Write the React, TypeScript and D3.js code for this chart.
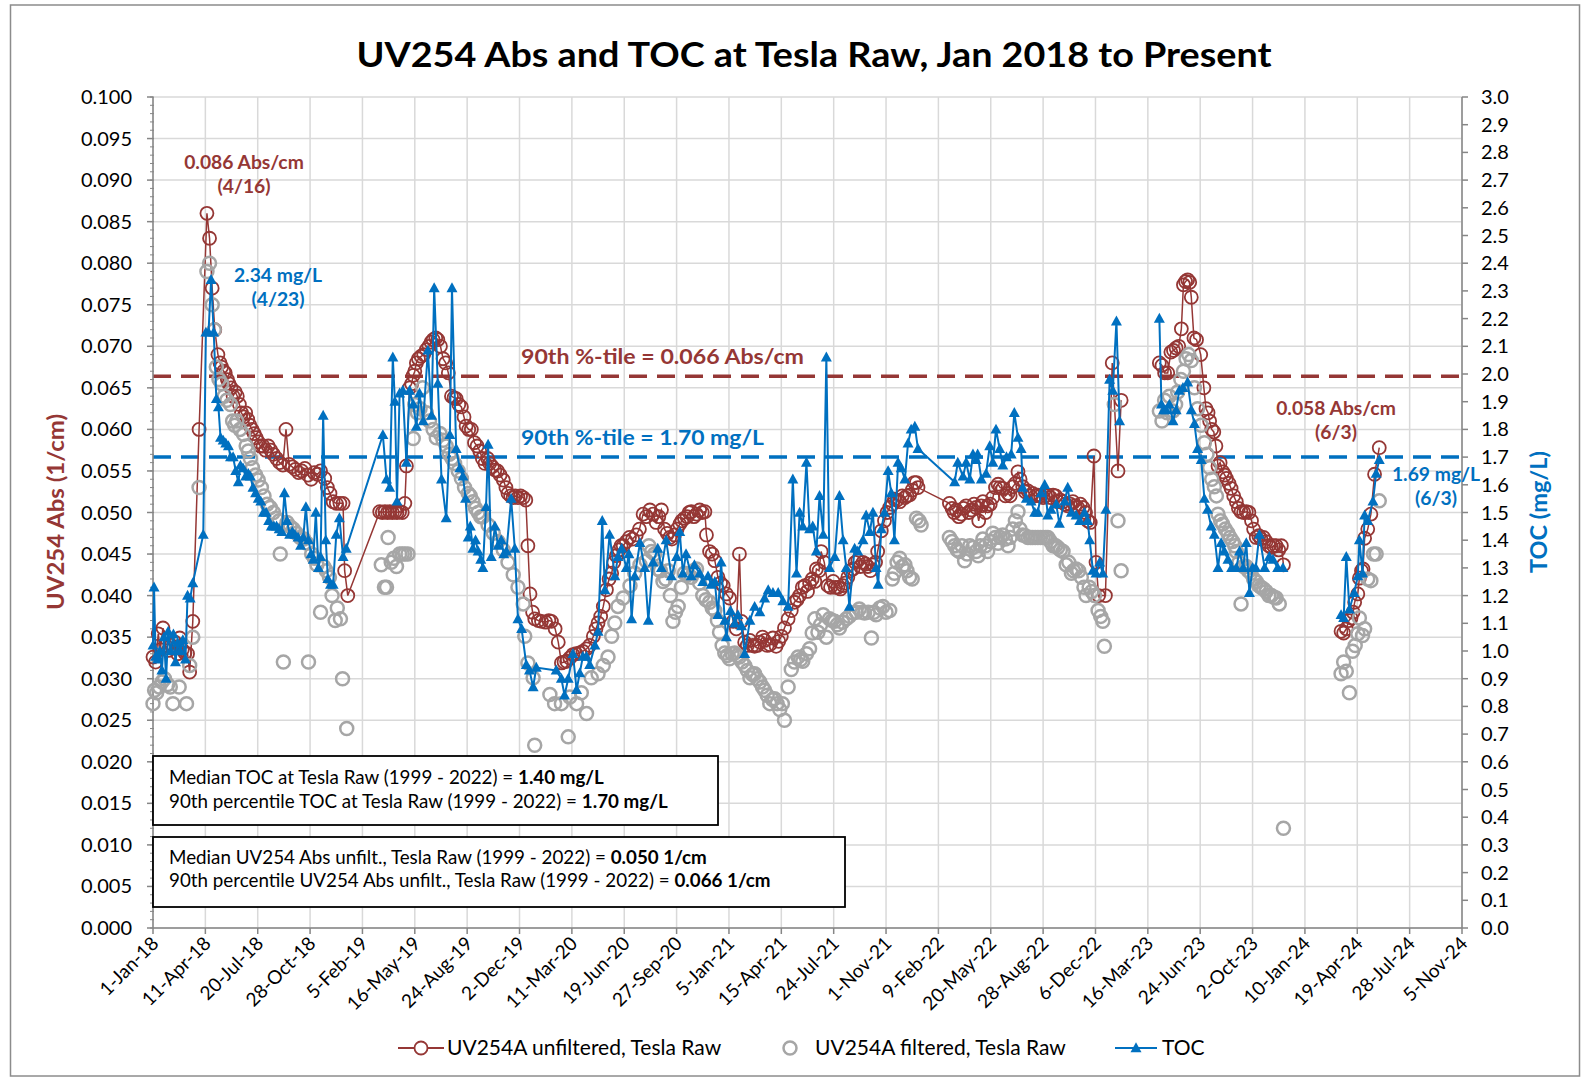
import React from "react";
import * as d3 from "d3";

const START = new Date(Date.UTC(2018, 0, 1));
const END = new Date(Date.UTC(2024, 10, 5));
const TICK_STEP_DAYS = 100;

// ---- UV254A unfiltered (day offset from 1-Jan-18, Abs/cm)
const unfilteredDay = [0,5,10,14,19,24,29,35,42,47,51,56,61,66,70,76,88,103,108,113,118,124,128,131,135,138,142,145,149,153,157,161,165,169,173,177,181,185,189,193,197,201,205,210,215,220,225,230,236,242,248,254,260,266,272,278,284,290,296,302,308,314,320,328,333,338,344,350,357,363,366,372,
433,438,443,448,452,457,462,466,471,476,481,484,490,494,497,500,503,507,512,517,522,527,531,535,540,544,549,554,559,564,570,575,579,584,589,594,598,603,608,614,619,624,629,634,639,643,648,653,658,663,669,674,678,683,688,692,697,702,707,712,716,720,725,729,736,742,750,756,761,768,774,780,785,790,796,802,808,815,821,828,834,841,846,850,855,860,866,871,876,880,885,890,894,898,904,910,916,923,929,936,942,949,955,961,966,971,977,982,987,991,996,1001,1006,1010,1015,1020,1024,1028,1033,1038,1044,1049,1054,1057,1063,1068,1073,1079,1084,1089,1095,1101,1108,1114,1120,1124,1130,1135,1140,1145,1149,1154,1159,1164,1168,1173,1178,1184,1190,1195,1200,1206,1213,1219,1225,1230,1235,1240,1245,1250,1254,1259,1264,1267,1272,1276,1282,1289,1294,1299,1303,1308,1313,1318,1322,1327,1332,1337,1341,1346,1351,1356,1361,1365,1370,1375,1380,1384,1391,1397,1402,1407,1412,1416,1421,1426,1431,1436,1440,1445,1450,1454,1458,1461,
1521,1526,1530,1534,1539,1544,1548,1553,1558,1563,1568,1572,1577,1582,1585,1590,1594,1599,1604,1609,1614,1618,1623,1628,1633,1637,1642,1647,1652,1656,1661,1666,1671,1676,1680,1685,1690,1695,1700,1705,1709,1714,1719,1724,1728,1733,1738,1742,1747,1752,1757,1761,1766,1771,1776,1781,1785,1790,1797,1801,1806,1819,1832,1843,1849,
1922,1927,1932,1938,1944,1949,1954,1959,1964,1968,1972,1976,1980,1983,1988,1993,2001,2007,2011,2015,2018,2022,2026,2030,2034,2038,2043,2047,2050,2055,2059,2064,2069,2073,2078,2083,2088,2093,2098,2102,2107,2112,2116,2121,2126,2131,2136,2140,2145,2150,2155,2159,
2269,2274,2279,2284,2288,2292,2295,2301,2304,2308,2311,2314,2320,2326,2333,2342];
const unfilteredUV = [0.0326,0.032,0.0354,0.0335,0.0361,0.034,0.0334,0.034,0.0344,0.033,0.0349,0.0335,0.0331,0.033,0.0308,0.0369,0.06,0.086,0.083,0.077,0.072,0.069,0.068,0.0675,0.067,0.0668,0.066,0.0655,0.065,0.064,0.0645,0.064,0.063,0.062,0.0615,0.062,0.0612,0.0605,0.06,0.0595,0.059,0.0585,0.058,0.058,0.0575,0.058,0.0575,0.057,0.0565,0.056,0.0557,0.06,0.0558,0.0555,0.0552,0.0548,0.055,0.0553,0.0545,0.054,0.0548,0.0546,0.055,0.0541,0.053,0.0523,0.0513,0.0511,0.0511,0.0511,0.043,0.04,
0.0501,0.05,0.0501,0.05,0.0501,0.05,0.0501,0.05,0.0501,0.05,0.0511,0.0556,0.065,0.0655,0.0665,0.067,0.068,0.0685,0.0688,0.069,0.0696,0.07,0.0705,0.0708,0.071,0.0708,0.07,0.0685,0.068,0.0668,0.064,0.0638,0.0637,0.063,0.0627,0.0615,0.0604,0.06,0.06,0.0584,0.058,0.0574,0.0565,0.0559,0.0565,0.0559,0.0555,0.0551,0.055,0.0545,0.0539,0.053,0.0523,0.052,0.0518,0.052,0.0518,0.052,0.0518,0.0515,0.046,0.0402,0.038,0.0372,0.037,0.0369,0.0368,0.037,0.0369,0.036,0.0344,0.0319,0.032,0.0321,0.0325,0.0329,0.033,0.0331,0.0333,0.0336,0.034,0.0351,0.036,0.0367,0.0375,0.0387,0.0407,0.042,0.0427,0.044,0.0448,0.0455,0.046,0.046,0.0465,0.047,0.0468,0.0473,0.048,0.0498,0.0495,0.0503,0.0498,0.0488,0.0495,0.0503,0.048,0.0475,0.047,0.0468,0.0473,0.048,0.0486,0.049,0.0493,0.0495,0.05,0.0501,0.0495,0.0498,0.0503,0.05,0.0501,0.0473,0.0453,0.045,0.0442,0.0422,0.0415,0.0412,0.0402,0.0397,0.0369,0.036,0.045,0.0369,0.0344,0.034,0.0346,0.034,0.0339,0.034,0.0344,0.035,0.0346,0.034,0.0341,0.0349,0.0339,0.0345,0.0351,0.0361,0.0372,0.0382,0.0392,0.0395,0.04,0.041,0.0412,0.0405,0.0415,0.042,0.0417,0.0432,0.043,0.0453,0.044,0.0412,0.041,0.0417,0.041,0.041,0.0408,0.0412,0.0415,0.0422,0.043,0.0432,0.044,0.0442,0.0435,0.044,0.0438,0.0435,0.043,0.0437,0.044,0.0453,0.0478,0.049,0.05,0.0506,0.051,0.0516,0.0515,0.0513,0.052,0.0518,0.052,0.0521,0.0527,0.0536,0.0536,0.053,
0.0511,0.0505,0.05,0.0503,0.0495,0.0498,0.0505,0.0508,0.05,0.0503,0.051,0.0506,0.049,0.0508,0.0513,0.05,0.0508,0.051,0.0518,0.053,0.0534,0.053,0.0529,0.052,0.0523,0.052,0.0531,0.0535,0.0549,0.054,0.0531,0.0525,0.0526,0.052,0.0523,0.052,0.0521,0.052,0.0518,0.052,0.0521,0.0518,0.0521,0.052,0.0513,0.0515,0.0513,0.051,0.0508,0.051,0.0513,0.0508,0.0506,0.051,0.0506,0.05,0.049,0.0488,0.0568,0.044,0.04,0.04,0.068,0.055,0.0635,
0.068,0.0677,0.0668,0.0668,0.0693,0.0695,0.0698,0.07,0.0721,0.0774,0.0778,0.078,0.0777,0.0759,0.071,0.0708,0.069,0.065,0.0625,0.062,0.061,0.06,0.0597,0.058,0.0556,0.056,0.0549,0.0545,0.0541,0.0535,0.0529,0.052,0.0513,0.0505,0.0501,0.05,0.0501,0.05,0.049,0.048,0.047,0.0472,0.0468,0.047,0.0465,0.046,0.0458,0.046,0.046,0.0455,0.046,0.0437,
0.0357,0.0355,0.036,0.037,0.0373,0.038,0.0392,0.0402,0.0421,0.043,0.0432,0.0469,0.048,0.0498,0.0546,0.0578];

// ---- UV254A filtered (markers only)
const filteredDay = [0,3,7,12,17,22,28,33,38,50,64,70,76,88,103,108,113,117,121,126,131,136,141,148,152,156,160,166,173,178,182,186,190,196,201,207,212,218,224,230,235,241,243,249,256,262,268,274,281,288,294,297,303,308,313,320,326,331,337,342,348,352,358,362,370,
436,442,446,449,455,460,465,471,476,481,487,497,500,505,510,515,522,528,535,541,548,554,560,566,571,576,583,589,595,602,606,611,616,621,626,630,640,650,659,669,678,688,697,707,710,716,726,729,758,767,780,793,796,809,818,828,837,850,860,869,876,882,888,898,911,920,930,942,947,952,958,964,969,974,979,984,988,993,998,1003,1009,1015,1021,1028,1033,1038,1044,1050,1056,1063,1068,1073,1078,1082,1087,1092,1097,1101,1106,1111,1116,1120,1125,1130,1135,1140,1145,1149,1154,1159,1164,1168,1173,1178,1183,1187,1192,1197,1202,1206,1213,1219,1225,1232,1237,1241,1248,1254,1259,1264,1270,1275,1280,1286,1292,1297,1302,1307,1311,1317,1324,1330,1337,1343,1349,1354,1359,1366,1372,1377,1381,1388,1394,1400,1407,1412,1416,1421,1426,1431,1436,1440,1445,1450,1458,1463,1467,
1521,1526,1531,1536,1540,1545,1550,1555,1560,1566,1572,1576,1580,1585,1590,1594,1599,1604,1609,1614,1618,1623,1628,1633,1637,1642,1647,1652,1656,1661,1666,1671,1676,1680,1685,1690,1695,1700,1705,1709,1714,1719,1724,1728,1733,1738,1744,1749,1754,1758,1763,1768,1773,1778,1782,1788,1793,1798,1805,1810,1814,1817,1836,1843,1849,
1922,1927,1932,1937,1941,1948,1953,1957,1963,1968,1973,1978,1983,1989,1995,2002,2008,2013,2018,2022,2027,2031,2034,2039,2043,2048,2053,2057,2062,2066,2069,2074,2078,2083,2088,2092,2097,2102,2107,2112,2116,2121,2126,2131,2136,2141,2145,2151,2159,
2269,2274,2279,2285,2291,2296,2301,2304,2310,2314,2320,2326,2331,2336,2342];
const filteredUV = [0.027,0.0286,0.0283,0.029,0.0296,0.03,0.0293,0.029,0.027,0.029,0.027,0.0316,0.035,0.053,0.079,0.08,0.075,0.072,0.0675,0.066,0.0655,0.064,0.0635,0.063,0.061,0.0605,0.061,0.06,0.0594,0.058,0.0574,0.0565,0.0554,0.0545,0.0539,0.053,0.052,0.051,0.0506,0.05,0.0493,0.049,0.045,0.032,0.0488,0.0483,0.048,0.0475,0.047,0.0468,0.0463,0.032,0.045,0.0445,0.0437,0.038,0.0435,0.043,0.0422,0.04,0.037,0.0385,0.0372,0.03,0.024,
0.0437,0.041,0.041,0.047,0.044,0.0445,0.0435,0.045,0.045,0.045,0.045,0.0589,0.063,0.062,0.0625,0.065,0.062,0.061,0.06,0.059,0.0595,0.0587,0.058,0.057,0.0565,0.0559,0.055,0.0541,0.053,0.0523,0.052,0.0513,0.0505,0.05,0.0495,0.0495,0.0485,0.0475,0.0465,0.0455,0.044,0.0425,0.041,0.039,0.0351,0.0319,0.0301,0.022,0.0281,0.027,0.027,0.023,0.0278,0.027,0.0283,0.0258,0.0301,0.0306,0.0316,0.0326,0.0351,0.0367,0.0387,0.0397,0.0412,0.0427,0.0437,0.0442,0.046,0.0453,0.045,0.0432,0.043,0.0417,0.042,0.043,0.04,0.0369,0.038,0.0387,0.041,0.0427,0.0425,0.0422,0.043,0.0432,0.0415,0.04,0.0395,0.0392,0.0385,0.0382,0.037,0.0356,0.034,0.0331,0.0328,0.0324,0.033,0.0331,0.0328,0.0326,0.032,0.0316,0.031,0.0301,0.0305,0.0306,0.03,0.0296,0.029,0.0286,0.028,0.027,0.0275,0.0276,0.027,0.0263,0.027,0.025,0.029,0.0311,0.032,0.0326,0.0323,0.0321,0.033,0.0336,0.0355,0.0372,0.0356,0.0365,0.0377,0.035,0.0372,0.037,0.0369,0.0365,0.0361,0.0368,0.0372,0.0375,0.0379,0.038,0.0384,0.038,0.0379,0.038,0.0349,0.038,0.0377,0.0385,0.0387,0.038,0.0382,0.042,0.0427,0.044,0.0445,0.0435,0.0437,0.043,0.0422,0.042,0.0493,0.049,0.0485,
0.047,0.0465,0.046,0.0455,0.0453,0.046,0.0442,0.045,0.046,0.0458,0.0453,0.0448,0.046,0.0468,0.046,0.0453,0.0465,0.0475,0.047,0.0463,0.047,0.0473,0.0468,0.046,0.047,0.048,0.049,0.0501,0.048,0.0473,0.0472,0.047,0.047,0.047,0.047,0.047,0.047,0.047,0.047,0.047,0.0465,0.046,0.046,0.0458,0.0455,0.0453,0.0437,0.044,0.0427,0.043,0.0432,0.043,0.0422,0.041,0.04,0.041,0.0405,0.04,0.0382,0.0375,0.0369,0.0339,0.063,0.049,0.043,
0.0622,0.061,0.0635,0.062,0.064,0.0622,0.063,0.0645,0.066,0.067,0.0685,0.069,0.0683,0.065,0.0625,0.0605,0.0584,0.057,0.0554,0.054,0.0531,0.052,0.0498,0.049,0.0486,0.048,0.0475,0.047,0.0465,0.046,0.0453,0.044,0.039,0.0435,0.0435,0.043,0.0427,0.042,0.0417,0.0412,0.041,0.0408,0.0405,0.04,0.04,0.0398,0.0397,0.039,0.012,
0.0306,0.032,0.0309,0.0283,0.0333,0.034,0.0354,0.0373,0.0352,0.036,0.042,0.0418,0.045,0.045,0.0514];

// ---- TOC (mg/L), secondary axis
const tocDay = [0,2,5,9,13,17,21,25,29,34,39,43,47,52,57,62,66,71,76,96,101,106,111,116,121,125,129,134,139,144,148,153,158,163,167,172,177,182,186,191,196,201,206,211,216,221,226,231,236,241,246,251,256,261,266,271,277,282,287,292,297,302,306,311,316,320,325,330,334,339,344,350,356,363,369,
439,446,452,458,462,466,471,477,484,490,497,503,509,516,525,532,537,544,551,560,567,571,579,586,592,597,602,606,611,616,621,626,630,636,640,646,653,659,665,670,675,684,691,697,704,713,719,726,732,770,780,786,793,802,809,815,821,828,834,844,850,858,863,872,882,888,895,904,909,914,920,930,939,946,955,964,971,980,990,1000,1006,1012,1018,1028,1034,1044,1050,1060,1066,1073,1079,1085,1092,1095,1103,1111,1117,1124,1130,1140,1149,1159,1168,1175,1184,1194,1203,1213,1222,1229,1235,1241,1248,1254,1260,1267,1273,1280,1286,1292,1302,1311,1318,1324,1330,1340,1346,1356,1362,1369,1375,1381,1385,1391,1397,1404,1410,1416,1423,1429,1436,1442,1448,1455,1461,
1531,1537,1547,1553,1560,1566,1572,1575,1582,1591,1598,1604,1610,1617,1623,1630,1639,1645,1652,1658,1661,1668,1677,1684,1690,1696,1703,1709,1715,1725,1731,1741,1747,1754,1763,1770,1779,1785,1789,1795,1801,1808,1814,1820,1827,1833,1840,1846,
1922,1926,1930,1935,1941,1948,1954,1960,1967,1976,1983,1989,1995,2002,2008,2014,2021,2027,2034,2040,2046,2053,2060,2069,2075,2082,2088,2094,2100,2106,2113,2123,2132,2139,2148,2158,
2269,2274,2279,2285,2294,2301,2304,2310,2314,2320,2330,2336,2342];
const tocValue = [1.02,1.23,0.98,0.97,1.0,0.93,1.05,0.9,1.07,1.0,1.06,0.96,1.03,1.0,1.04,0.97,1.2,1.19,1.245,1.42,2.15,2.15,2.34,2.15,1.91,1.88,1.77,1.76,1.75,1.74,1.7,1.7,1.65,1.61,1.67,1.66,1.63,1.64,1.63,1.59,1.57,1.55,1.54,1.5,1.5,1.47,1.45,1.45,1.45,1.44,1.43,1.57,1.47,1.42,1.43,1.42,1.41,1.38,1.41,1.52,1.4,1.35,1.33,1.5,1.3,1.34,1.85,1.4,1.26,1.24,1.24,1.42,1.48,1.34,1.37,
1.78,1.62,1.59,2.06,1.9,1.54,1.93,1.94,1.68,1.94,1.89,1.81,1.93,1.83,2.085,1.85,2.31,1.965,1.62,1.48,1.78,2.31,1.73,1.66,1.63,1.55,1.41,1.45,1.37,1.4,1.36,1.33,1.3,1.52,1.745,1.34,1.45,1.38,1.4,1.35,1.36,1.55,1.37,1.115,1.08,0.95,0.93,0.87,0.94,0.93,0.9,0.84,0.9,0.99,0.86,0.92,0.98,0.98,0.95,1.02,1.07,1.47,1.22,1.42,1.27,1.34,1.37,1.3,1.35,1.115,1.27,1.39,1.3,1.11,1.32,1.37,1.3,1.4,1.27,1.34,1.43,1.28,1.35,1.27,1.31,1.28,1.25,1.27,1.24,1.25,1.13,1.32,1.11,1.05,1.145,1.1,1.13,1.09,0.99,1.11,1.16,1.14,1.19,1.22,1.21,1.21,1.18,1.16,1.62,1.28,1.5,1.45,1.68,1.44,1.45,1.36,1.56,1.42,2.06,1.3,1.34,1.56,1.4,1.3,1.16,1.37,1.36,1.4,1.49,1.43,1.5,1.3,1.24,1.44,1.5,1.65,1.57,1.4,1.68,1.66,1.62,1.75,1.8,1.81,1.73,
1.61,1.68,1.63,1.68,1.62,1.71,1.69,1.71,1.62,1.64,1.74,1.68,1.8,1.73,1.67,1.7,1.71,1.86,1.77,1.73,1.59,1.55,1.54,1.5,1.5,1.57,1.6,1.49,1.51,1.53,1.46,1.54,1.59,1.5,1.49,1.47,1.5,1.47,1.4,1.29,1.28,1.32,1.28,1.51,1.98,1.94,2.19,1.83,
2.2,1.89,1.87,1.87,1.89,1.83,1.87,1.94,1.95,1.97,1.87,1.82,1.73,1.69,1.55,1.51,1.45,1.42,1.3,1.39,1.36,1.33,1.3,1.3,1.36,1.3,1.39,1.21,1.3,1.3,1.42,1.3,1.34,1.33,1.3,1.3,
1.13,1.12,1.34,1.15,1.21,1.27,1.4,1.28,1.49,1.47,1.54,1.64,1.69];

const uvTickValues = d3.range(0, 21).map((i) => i * 0.005);
const uvMinorValues = d3.range(0, 101).map((i) => i * 0.001);
const tocTickValues = d3.range(0, 31).map((i) => i / 10);
const UV_P90 = 0.0664;
const TOC_P90 = 1.7;

const W = 1581;
const H = 1077;
const L = 153, R = 1462, T = 97, B = 928;
const FONT = "Lato, 'Open Sans', sans-serif";
const RED = "#953735";
const GRAY = "#A6A6A6";
const BLUE = "#0070C0";
const GRID = "#D9D9D9";
const AXIS = "#868686";
const MAX_GAP = 70;

type Pt = { date: Date; v: number; day: number };

function toPoints(days: number[], vals: number[]): Pt[] {
  return days.map((d, i) => ({ day: d, date: d3.utcDay.offset(START, d), v: vals[i] }));
}
function splitSegments(pts: Pt[]): Pt[][] {
  const segs: Pt[][] = [];
  let cur: Pt[] = [];
  pts.forEach((p, i) => {
    if (i > 0 && p.day - pts[i - 1].day > MAX_GAP) {
      segs.push(cur);
      cur = [];
    }
    cur.push(p);
  });
  if (cur.length) segs.push(cur);
  return segs;
}

export default function App() {
  const x = d3.scaleUtc().domain([START, END]).range([L, R]);
  const yUV = d3.scaleLinear().domain([0, 0.1]).range([B, T]);
  const yTOC = d3.scaleLinear().domain([0, 3]).range([B, T]);

  const xTicks = d3.range(0, 26).map((i) => d3.utcDay.offset(START, i * TICK_STEP_DAYS));
  const fmt = d3.utcFormat("%-d-%b-%y");

  const unf = toPoints(unfilteredDay, unfilteredUV);
  const fil = toPoints(filteredDay, filteredUV);
  const toc = toPoints(tocDay, tocValue);

  const lineUV = d3.line<Pt>().x((d) => x(d.date)).y((d) => yUV(d.v));
  const lineTOC = d3.line<Pt>().x((d) => x(d.date)).y((d) => yTOC(d.v));

  const tri = (cx: number, cy: number, s = 5.5) =>
    `M${cx},${cy - s * 1.05}L${cx + s},${cy + s * 0.75}L${cx - s},${cy + s * 0.75}Z`;

  return (
    <svg width={W} height={H} style={{ position: "absolute", left: 0, top: 0 }} fontFamily={FONT}>
      <rect x={0} y={0} width={W} height={H} fill="#fff" />
      <rect x={10.5} y={5} width={1569} height={H - 6} fill="none" stroke="#8c8c8c" strokeWidth={1.5} />

      {/* title */}
      <text x={814} y={67} textAnchor="middle" fontSize={35} fontWeight="bold" fill="#000" textLength={915} lengthAdjust="spacingAndGlyphs">
        UV254 Abs and TOC at Tesla Raw, Jan 2018 to Present
      </text>

      {/* grid */}
      {uvTickValues.map((v) => (
        <line key={"hg" + v} x1={L} x2={R} y1={yUV(v)} y2={yUV(v)} stroke={GRID} strokeWidth={1.5} />
      ))}
      {xTicks.map((t, i) => (
        <line key={"vg" + i} x1={x(t)} x2={x(t)} y1={T} y2={B} stroke={GRID} strokeWidth={1.5} />
      ))}

      {/* percentile lines */}
      <line x1={L} x2={R} y1={yUV(UV_P90)} y2={yUV(UV_P90)} stroke={RED} strokeWidth={3.5} strokeDasharray="18 10" />
      <line x1={L} x2={R} y1={yTOC(TOC_P90)} y2={yTOC(TOC_P90)} stroke={BLUE} strokeWidth={3.5} strokeDasharray="18 10" />

      {/* axes */}
      <line x1={L} x2={L} y1={T} y2={B} stroke={AXIS} strokeWidth={1.5} />
      <line x1={R} x2={R} y1={T} y2={B} stroke={AXIS} strokeWidth={1.5} />
      <line x1={L} x2={R} y1={B} y2={B} stroke={AXIS} strokeWidth={1.5} />
      {uvMinorValues.map((v, i) => (
        <line key={"mn" + i} x1={L - 3} x2={L + 1} y1={yUV(v)} y2={yUV(v)} stroke={AXIS} strokeWidth={1} />
      ))}
      {uvTickValues.map((v) => (
        <g key={"ly" + v}>
          <line x1={L - 6} x2={L} y1={yUV(v)} y2={yUV(v)} stroke={AXIS} strokeWidth={1.5} />
          <text x={132} y={yUV(v)} dy="0.35em" textAnchor="end" fontSize={20} fill="#000">
            {v.toFixed(3)}
          </text>
        </g>
      ))}
      {tocTickValues.map((v) => (
        <g key={"ry" + v}>
          <line x1={R} x2={R + 6} y1={yTOC(v)} y2={yTOC(v)} stroke={AXIS} strokeWidth={1.5} />
          <text x={1481} y={yTOC(v)} dy="0.35em" textAnchor="start" fontSize={20} fill="#000">
            {v.toFixed(1)}
          </text>
        </g>
      ))}
      {xTicks.map((t, i) => (
        <g key={"xt" + i}>
          <line x1={x(t)} x2={x(t)} y1={B} y2={B + 6} stroke={AXIS} strokeWidth={1.5} />
          <text transform={`translate(${x(t) + 2},${B + 12}) rotate(-45)`} dy="0.35em" textAnchor="end" fontSize={19} fill="#000">
            {fmt(t)}
          </text>
        </g>
      ))}

      {/* axis titles */}
      <text transform="translate(64,512) rotate(-90)" textAnchor="middle" fontSize={23} fontWeight="bold" fill={RED} textLength={196} lengthAdjust="spacingAndGlyphs">
        UV254 Abs (1/cm)
      </text>
      <text transform="translate(1547,512) rotate(-90)" textAnchor="middle" fontSize={23} fontWeight="bold" fill={BLUE} textLength={122} lengthAdjust="spacingAndGlyphs">
        TOC (mg/L)
      </text>

      {/* unfiltered series */}
      {splitSegments(unf).map((seg, i) => (
        <path key={"ul" + i} d={lineUV(seg) || ""} fill="none" stroke={RED} strokeWidth={1.5} />
      ))}
      {unf.map((p, i) => (
        <circle key={"uc" + i} cx={x(p.date)} cy={yUV(p.v)} r={6.5} fill="none" stroke={RED} strokeWidth={1.8} />
      ))}

      {/* filtered series */}
      {fil.map((p, i) => (
        <circle key={"fc" + i} cx={x(p.date)} cy={yUV(p.v)} r={6.5} fill="none" stroke={GRAY} strokeWidth={2.5} />
      ))}

      {/* TOC series */}
      {splitSegments(toc).map((seg, i) => (
        <path key={"tl" + i} d={lineTOC(seg) || ""} fill="none" stroke={BLUE} strokeWidth={2} />
      ))}
      {toc.map((p, i) => (
        <path key={"tm" + i} d={tri(x(p.date), yTOC(p.v))} fill={BLUE} />
      ))}

      {/* annotations */}
      <g fontWeight="bold" fontSize={19.3} textAnchor="middle">
        <text x={244} y={169} fill={RED}>0.086 Abs/cm</text>
        <text x={244} y={193} fill={RED}>(4/16)</text>
        <text x={278} y={282} fill={BLUE}>2.34 mg/L</text>
        <text x={278} y={306} fill={BLUE}>(4/23)</text>
        <text x={1336} y={415} fill={RED}>0.058 Abs/cm</text>
        <text x={1336} y={439} fill={RED}>(6/3)</text>
        <text x={1436} y={481} fill={BLUE}>1.69 mg/L</text>
        <text x={1436} y={505} fill={BLUE}>(6/3)</text>
      </g>
      <text x={521} y={364} fontWeight="bold" fontSize={20} fill={RED} textLength={283} lengthAdjust="spacingAndGlyphs">
        90th %-tile = 0.066 Abs/cm
      </text>
      <text x={521} y={445} fontWeight="bold" fontSize={20} fill={BLUE} textLength={243} lengthAdjust="spacingAndGlyphs">
        90th %-tile = 1.70 mg/L
      </text>

      {/* text boxes */}
      <rect x={153} y={756} width={565} height={69} fill="#fff" stroke="#000" strokeWidth={1.8} />
      <text x={169} y={784} fontSize={18.8} fill="#000">
        Median TOC at Tesla Raw (1999 - 2022) = <tspan fontWeight="bold">1.40 mg/L</tspan>
      </text>
      <text x={169} y={808} fontSize={18.8} fill="#000">
        90th percentile  TOC at Tesla Raw (1999 - 2022) = <tspan fontWeight="bold">1.70 mg/L</tspan>
      </text>
      <rect x={153} y={837} width={692} height={70} fill="#fff" stroke="#000" strokeWidth={1.8} />
      <text x={169} y={864} fontSize={18.8} fill="#000">
        Median UV254 Abs unfilt., Tesla Raw (1999 - 2022) = <tspan fontWeight="bold">0.050 1/cm</tspan>
      </text>
      <text x={169} y={887} fontSize={18.8} fill="#000">
        90th percentile  UV254 Abs unfilt., Tesla Raw (1999 - 2022) = <tspan fontWeight="bold">0.066 1/cm</tspan>
      </text>

      {/* legend */}
      <g fontSize={21} fill="#000">
        <line x1={398} x2={444} y1={1048} y2={1048} stroke={RED} strokeWidth={1.8} />
        <circle cx={421} cy={1048} r={6.5} fill="#fff" stroke={RED} strokeWidth={1.8} />
        <text x={447} y={1048} dy="0.35em">UV254A unfiltered, Tesla Raw</text>
        <circle cx={790} cy={1048} r={6.5} fill="none" stroke={GRAY} strokeWidth={2.5} />
        <text x={815} y={1048} dy="0.35em">UV254A filtered, Tesla Raw</text>
        <line x1={1115} x2={1157} y1={1048} y2={1048} stroke={BLUE} strokeWidth={2} />
        <path d={tri(1136, 1048)} fill={BLUE} />
        <text x={1162} y={1048} dy="0.35em">TOC</text>
      </g>
    </svg>
  );
}
